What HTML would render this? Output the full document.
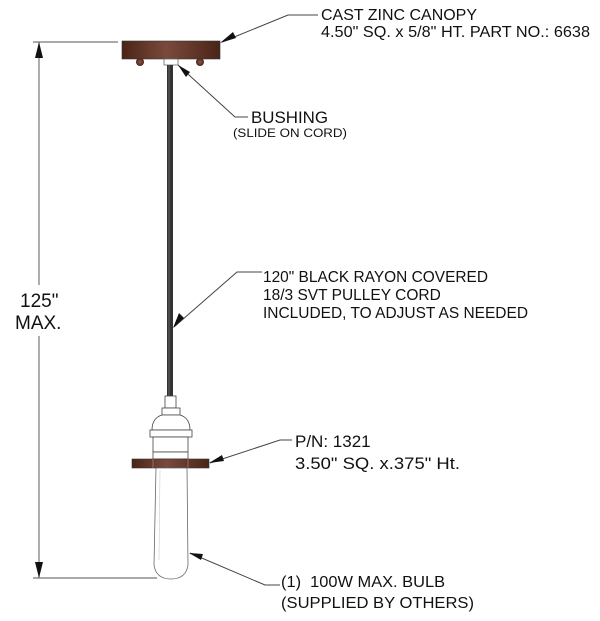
<!DOCTYPE html>
<html><head><meta charset="utf-8"><style>
html,body{margin:0;padding:0;background:#fff}
svg{display:block}
text{font-family:"Liberation Sans",Arial,sans-serif;fill:#111}
</style></head><body>
<svg width="600" height="621" viewBox="0 0 600 621" xmlns="http://www.w3.org/2000/svg">
<defs>
<linearGradient id="br" x1="0" y1="0" x2="1" y2="0">
<stop offset="0" stop-color="#4a2418"/><stop offset="0.45" stop-color="#7a4a3c"/><stop offset="1" stop-color="#4a2418"/>
</linearGradient>
<radialGradient id="bump"><stop offset="0" stop-color="#8a5a48"/><stop offset="1" stop-color="#4a2418"/></radialGradient>
</defs>
<g stroke="#777" stroke-width="1.2" fill="none">
<line x1="33" y1="42" x2="118" y2="42"/>
<line x1="33" y1="578" x2="157" y2="578"/>
<line x1="39" y1="42" x2="39" y2="285"/>
<line x1="39" y1="336" x2="39" y2="578"/>
</g>
<polygon points="39,42 35,58 43,58" fill="#111"/>
<polygon points="39,578 35,562 43,562" fill="#111"/>
<text x="20" y="307" font-size="19">125"</text>
<text x="15" y="329" font-size="19">MAX.</text>
<rect x="122" y="41" width="98" height="18" fill="url(#br)" stroke="#333" stroke-width="0.6"/>
<circle cx="140" cy="62" r="4" fill="url(#bump)"/>
<circle cx="200" cy="62" r="4" fill="url(#bump)"/>
<rect x="164" y="59" width="14" height="6" fill="#fff" stroke="#666" stroke-width="0.8"/>
<rect x="167" y="65" width="6" height="332" fill="#333"/>
<line x1="169" y1="65" x2="169" y2="397" stroke="#666" stroke-width="1"/>
<g fill="#fff" stroke="#444" stroke-width="0.8">
<rect x="165" y="396" width="11" height="12"/>
<rect x="162" y="408" width="18" height="7"/>
<path d="M162,415 Q152,418 152,430 L190,430 Q190,418 180,415 Z"/>
<rect x="150" y="430" width="42" height="7"/>
<rect x="153" y="437" width="35" height="15"/>
<rect x="153" y="452" width="35" height="7"/>
</g>
<rect x="132" y="459" width="77" height="9" fill="url(#br)" stroke="#333" stroke-width="0.6"/>
<line x1="153" y1="459" x2="153" y2="468" stroke="#999" stroke-width="0.6"/>
<line x1="188" y1="459" x2="188" y2="468" stroke="#999" stroke-width="0.6"/>
<path d="M156,468 L154,565 Q156,579 171,579 Q186,579 188,565 L187,468 Z" fill="#fff" stroke="#666" stroke-width="0.8"/>
<line x1="160" y1="470" x2="159" y2="560" stroke="#ccc" stroke-width="0.6"/>
<g stroke="#444" stroke-width="1" fill="none">
<polyline points="318,15 288,15 222,42"/>
<polyline points="248,117 235,117 178,65"/>
<polyline points="262,272 237,272 174,327"/>
<polyline points="292,440 280,440 210,463"/>
<polyline points="280,585 265,585 190,553"/>
</g>
<polygon points="220,43 233,32 236,38" fill="#111"/>
<polygon points="178,65 186,77 190,72" fill="#111"/>
<polygon points="173,328 179,313 184,318" fill="#111"/>
<polygon points="209,463 222,455 224,461" fill="#111"/>
<polygon points="189,553 203,554 201,560" fill="#111"/>
<text x="321" y="20" font-size="15.5" textLength="156" lengthAdjust="spacingAndGlyphs">CAST ZINC CANOPY</text>
<text x="321" y="37" font-size="15.5" textLength="269" lengthAdjust="spacingAndGlyphs">4.50" SQ. x 5/8" HT. PART NO.: 6638</text>
<text x="251" y="123" font-size="16.5" textLength="77" lengthAdjust="spacingAndGlyphs">BUSHING</text>
<text x="233" y="137" font-size="11.5" textLength="114" lengthAdjust="spacingAndGlyphs">(SLIDE ON CORD)</text>
<text x="263" y="282" font-size="15.5" textLength="225" lengthAdjust="spacingAndGlyphs">120" BLACK RAYON COVERED</text>
<text x="263" y="300" font-size="15.5">18/3 SVT PULLEY CORD</text>
<text x="263" y="318" font-size="15.5" textLength="265" lengthAdjust="spacingAndGlyphs">INCLUDED, TO ADJUST AS NEEDED</text>
<text x="295" y="447" font-size="17">P/N: 1321</text>
<text x="295" y="469" font-size="17" textLength="165" lengthAdjust="spacingAndGlyphs">3.50" SQ. x.375" Ht.</text>
<text x="281" y="587" font-size="15.5" textLength="164" lengthAdjust="spacingAndGlyphs">(1)&#160; 100W MAX. BULB</text>
<text x="281" y="608" font-size="15.5" textLength="193" lengthAdjust="spacingAndGlyphs">(SUPPLIED BY OTHERS)</text>
</svg>
</body></html>
